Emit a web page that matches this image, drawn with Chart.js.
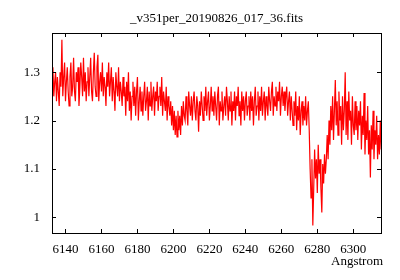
<!DOCTYPE html>
<html>
<head>
<meta charset="utf-8">
<script src="https://cdn.jsdelivr.net/npm/chart.js@4.4.1/dist/chart.umd.min.js"></script>
<style>
  html, body { margin: 0; padding: 0; background: #fff; }
  #wrap { width: 400px; height: 280px; }
</style>
</head>
<body>
<div id="wrap"><canvas id="spec"></canvas></div>
<script>
// Spectre normalise, grille en longueur d'onde (debut + pas, comme dans l'entete FITS)
const titleText = '_v351per_20190826_017_36.fits';
const xLabel = 'Angstrom';
const lambdaStart = 6132.5;
const lambdaStep = 0.5;
const xTicks = [6140, 6160, 6180, 6200, 6220, 6240, 6260, 6280, 6300];
const yTicks = [1, 1.1, 1.2, 1.3];

const flux = [
    // 6132.5
    1.27, 1.31, 1.25, 1.28, 1.30, 1.24, 1.29, 1.26, 1.23, 1.30, 1.27, 1.367, 1.25, 1.29, 1.32, 1.24, 1.28, 1.31, 1.26, 1.23,
    // 6142.5
    1.29, 1.32, 1.25, 1.27, 1.33, 1.26, 1.24, 1.30, 1.28, 1.31, 1.23, 1.27, 1.32, 1.29, 1.25, 1.33, 1.26, 1.30, 1.24, 1.28,
    // 6152.5
    1.31, 1.25, 1.29, 1.33, 1.26, 1.24, 1.30, 1.34, 1.27, 1.25, 1.31, 1.336, 1.24, 1.28, 1.30, 1.26, 1.32, 1.25, 1.29, 1.27,
    // 6162.5
    1.23, 1.30, 1.27, 1.32, 1.25, 1.28, 1.31, 1.24, 1.29, 1.26, 1.22, 1.30, 1.27, 1.25, 1.31, 1.24, 1.28, 1.26, 1.23, 1.29,
    // 6172.5
    1.25, 1.27, 1.21, 1.28, 1.24, 1.30, 1.22, 1.26, 1.20, 1.25, 1.28, 1.23, 1.27, 1.21, 1.26, 1.29, 1.20, 1.24, 1.27, 1.22,
    // 6182.5
    1.26, 1.21, 1.25, 1.28, 1.22, 1.24, 1.27, 1.20, 1.26, 1.23, 1.28, 1.22, 1.25, 1.27, 1.21, 1.26, 1.24, 1.28, 1.22, 1.25,
    // 6192.5
    1.27, 1.23, 1.29, 1.21, 1.26, 1.24, 1.22, 1.27, 1.20, 1.25, 1.23, 1.21, 1.24, 1.19, 1.23, 1.18, 1.22, 1.17, 1.21, 1.166,
    // 6202.5
    1.22, 1.18, 1.21, 1.17, 1.23, 1.19, 1.24, 1.21, 1.20, 1.25, 1.22, 1.19, 1.26, 1.23, 1.21, 1.25, 1.20, 1.24, 1.26, 1.22,
    // 6212.5
    1.20, 1.25, 1.23, 1.177, 1.24, 1.21, 1.26, 1.23, 1.20, 1.25, 1.22, 1.27, 1.21, 1.24, 1.26, 1.20, 1.23, 1.27, 1.22, 1.25,
    // 6222.5
    1.21, 1.26, 1.23, 1.20, 1.25, 1.27, 1.19, 1.24, 1.22, 1.26, 1.20, 1.23, 1.25, 1.21, 1.27, 1.24, 1.20, 1.25, 1.22, 1.26,
    // 6232.5
    1.19, 1.24, 1.22, 1.26, 1.20, 1.25, 1.23, 1.27, 1.21, 1.24, 1.19, 1.26, 1.22, 1.25, 1.20, 1.24, 1.26, 1.21, 1.23, 1.25,
    // 6242.5
    1.20, 1.26, 1.22, 1.25, 1.19, 1.24, 1.27, 1.21, 1.23, 1.26, 1.20, 1.25, 1.22, 1.27, 1.21, 1.24, 1.26, 1.20, 1.25, 1.23,
    // 6252.5
    1.21, 1.27, 1.24, 1.22, 1.26, 1.28, 1.21, 1.25, 1.23, 1.27, 1.22, 1.26, 1.24, 1.28, 1.21, 1.25, 1.27, 1.23, 1.26, 1.22,
    // 6262.5
    1.25, 1.27, 1.21, 1.24, 1.26, 1.20, 1.25, 1.22, 1.19, 1.24, 1.21, 1.26, 1.18, 1.23, 1.20, 1.25, 1.17, 1.22, 1.24, 1.19,
    // 6272.5
    1.23, 1.20, 1.25, 1.19, 1.22, 1.24, 1.18, 1.10, 1.04, 1.12, 0.983, 1.06, 1.14, 1.08, 1.12, 1.05, 1.15, 1.09, 1.12, 1.06,
    // 6282.5
    1.01, 1.11, 1.07, 1.13, 1.09, 1.12, 1.17, 1.12, 1.20, 1.15, 1.23, 1.18, 1.25, 1.16, 1.22, 1.284, 1.19, 1.24, 1.17, 1.26,
    // 6292.5
    1.20, 1.23, 1.15, 1.25, 1.18, 1.22, 1.30, 1.17, 1.24, 1.16, 1.26, 1.20, 1.22, 1.15, 1.25, 1.19, 1.17, 1.24, 1.18, 1.23,
    // 6302.5
    1.16, 1.22, 1.19, 1.24, 1.14, 1.21, 1.17, 1.257, 1.13, 1.20, 1.16, 1.23, 1.13, 1.18, 1.082, 1.19, 1.14, 1.22, 1.12, 1.18,
    // 6312.5
    1.15, 1.21, 1.12, 1.17, 1.13, 1.20, 1.14
];

const points = flux.map((f, i) => ({ x: lambdaStart + i * lambdaStep, y: f }));

const fontName = '"Liberation Serif", "DejaVu Serif", serif';

// Cadre, graduations vers l'interieur et textes facon gnuplot
const gnuplotFrame = {
    id: 'gnuplotFrame',
    afterDraw(chart) {
        const { ctx, chartArea: a, scales } = chart;
        ctx.save();
        ctx.strokeStyle = '#000';
        ctx.lineWidth = 1;
        ctx.beginPath();
        xTicks.forEach(t => {
            const px = Math.round(scales.x.getPixelForValue(t)) + 0.5;
            ctx.moveTo(px, a.bottom);
            ctx.lineTo(px, a.bottom - 4);
            ctx.moveTo(px, a.top);
            ctx.lineTo(px, a.top + 4);
        });
        yTicks.forEach(t => {
            const py = Math.round(scales.y.getPixelForValue(t)) + 0.5;
            ctx.moveTo(a.left, py);
            ctx.lineTo(a.left + 4, py);
            ctx.moveTo(a.right, py);
            ctx.lineTo(a.right - 4, py);
        });
        ctx.stroke();
        ctx.strokeRect(Math.round(a.left) + 0.5, Math.round(a.top) + 0.5,
            Math.round(a.right - a.left), Math.round(a.bottom - a.top));

        ctx.fillStyle = '#000';
        ctx.font = '13px ' + fontName;
        ctx.textBaseline = 'middle';
        ctx.textAlign = 'center';
        ctx.fillText(titleText, (a.left + a.right) / 2, 19);
        ctx.textAlign = 'right';
        ctx.fillText(xLabel, 383, 262);
        ctx.restore();
    }
};

new Chart(document.getElementById('spec'), {
    type: 'line',
    data: {
        datasets: [{
            data: points,
            borderColor: '#ff0000',
            borderWidth: 1.2,
            pointRadius: 0,
            tension: 0,
            fill: false
        }]
    },
    options: {
        responsive: true,
        maintainAspectRatio: false,
        animation: false,
        devicePixelRatio: 1,
        layout: { padding: { top: 33, right: 19, left: 0, bottom: 0 } },
        plugins: {
            legend: { display: false },
            title: { display: false },
            tooltip: { enabled: false }
        },
        scales: {
            x: {
                type: 'linear',
                min: 6132.5,
                max: 6315.4,
                afterFit: s => { s.height = 47; },
                afterBuildTicks: s => { s.ticks = xTicks.map(v => ({ value: v })); },
                grid: { display: false, drawTicks: false },
                border: { display: false },
                ticks: {
                    padding: 9,
                    color: '#000',
                    font: { family: fontName, size: 13 },
                    maxRotation: 0,
                    callback: v => String(v)
                }
            },
            y: {
                min: 0.9674,
                max: 1.381,
                afterFit: s => { s.width = 52; },
                afterBuildTicks: s => { s.ticks = yTicks.map(v => ({ value: v })); },
                grid: { display: false, drawTicks: false },
                border: { display: false },
                ticks: {
                    padding: 12,
                    color: '#000',
                    font: { family: fontName, size: 13 },
                    callback: v => String(v)
                }
            }
        }
    },
    plugins: [gnuplotFrame]
});
</script>
</body>
</html>
